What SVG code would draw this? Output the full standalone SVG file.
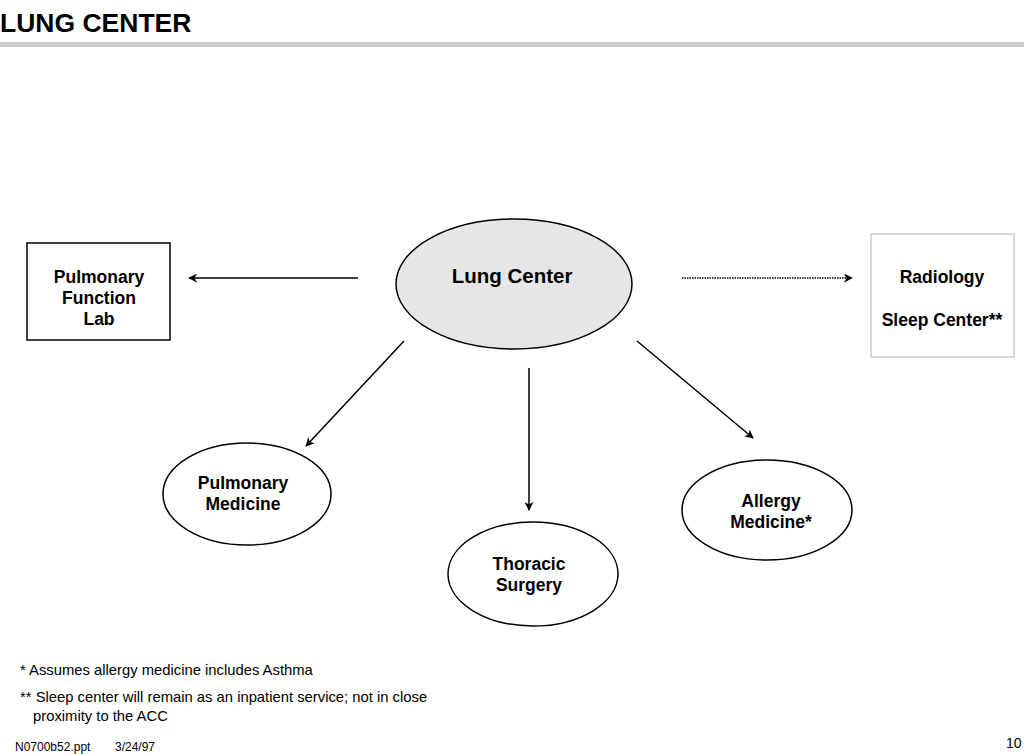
<svg xmlns="http://www.w3.org/2000/svg" width="1024" height="754" viewBox="0 0 1024 754">
<defs>
<marker id="ah" viewBox="0 0 10 10" refX="9" refY="5" markerWidth="9" markerHeight="9" markerUnits="userSpaceOnUse" orient="auto">
<path d="M0,0 L10,5 L0,10 L3,5 Z" fill="#000"/>
</marker>
</defs>
<style>
text{font-family:"Liberation Sans",Arial,sans-serif;fill:#000}
.n{font-size:17.5px;font-weight:bold;text-anchor:middle}
.f{font-size:14.8px}
.c{stroke:#000;stroke-width:1.5;fill:none;marker-end:url(#ah)}
.e{fill:#fff;stroke:#000;stroke-width:1.5}
</style>
<rect width="1024" height="754" fill="#fff"/>
<text x="0" y="32" style="font-size:26.5px;font-weight:bold">LUNG CENTER</text>
<rect x="0" y="42" width="1024" height="5" fill="#cccccc"/>
<g id="connectors">
<line class="c" x1="358" y1="278" x2="189" y2="278"/>
<line class="c" x1="682" y1="278" x2="852" y2="278" stroke-dasharray="1.5,1"/>
<line class="c" x1="404" y1="341" x2="306" y2="446"/>
<line class="c" x1="529" y1="368" x2="529" y2="510"/>
<line class="c" x1="637" y1="341" x2="753" y2="438"/>
</g>
<g id="lung-center">
<ellipse cx="514" cy="284" rx="118" ry="65" fill="#e6e6e6" stroke="#000" stroke-width="1.5"/>
<text class="n" x="512" y="283" style="font-size:20.5px">Lung Center</text>
</g>
<g id="pulmonary-function-lab">
<rect x="27" y="243" width="143" height="97" fill="#fff" stroke="#000" stroke-width="1.5"/>
<text class="n" x="99" y="283">Pulmonary</text>
<text class="n" x="99" y="304">Function</text>
<text class="n" x="99" y="325">Lab</text>
</g>
<g id="radiology">
<rect x="871" y="234" width="143" height="123" fill="#fff" stroke="#cccccc" stroke-width="1.5"/>
<text class="n" x="942" y="283">Radiology</text>
<text class="n" x="942" y="326">Sleep Center**</text>
</g>
<g id="pulmonary-medicine">
<ellipse class="e" cx="247" cy="494" rx="84" ry="51"/>
<text class="n" x="243" y="489">Pulmonary</text>
<text class="n" x="243" y="510">Medicine</text>
</g>
<g id="thoracic-surgery">
<ellipse class="e" cx="533" cy="574" rx="85" ry="52"/>
<text class="n" x="529" y="570">Thoracic</text>
<text class="n" x="529" y="591">Surgery</text>
</g>
<g id="allergy-medicine">
<ellipse class="e" cx="767" cy="510" rx="85" ry="50"/>
<text class="n" x="771" y="507">Allergy</text>
<text class="n" x="771" y="528">Medicine*</text>
</g>
<text class="f" x="20" y="675">* Assumes allergy medicine includes Asthma</text>
<text class="f" x="20" y="702">** Sleep center will remain as an inpatient service; not in close</text>
<text class="f" x="33" y="721">proximity to the ACC</text>
<text x="15" y="751" style="font-size:12px">N0700b52.ppt</text>
<text x="115" y="751" style="font-size:12px">3/24/97</text>
<text x="1006" y="748" style="font-size:14px">10</text>
</svg>
